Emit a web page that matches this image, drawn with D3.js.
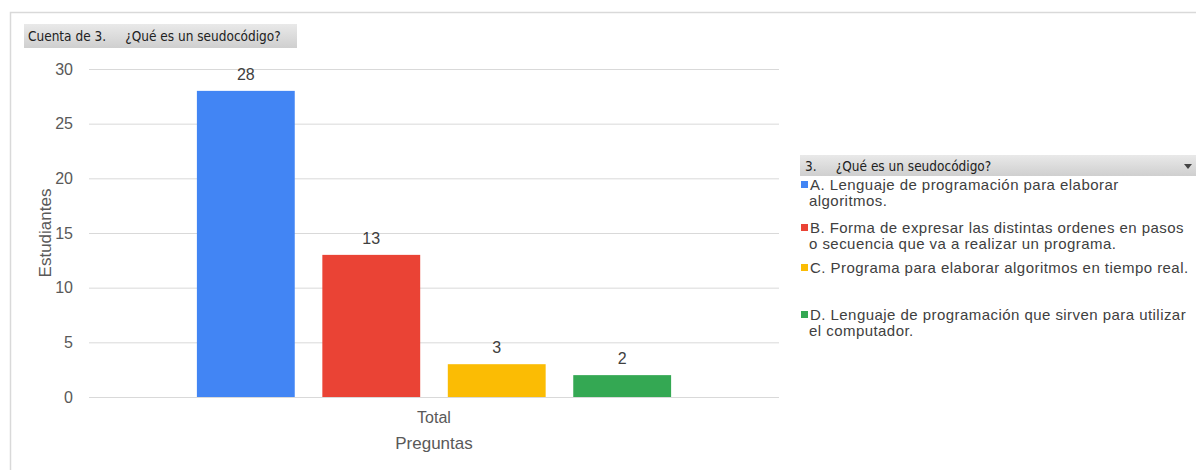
<!DOCTYPE html>
<html>
<head>
<meta charset="utf-8">
<script src="https://cdn.jsdelivr.net/npm/d3@7"></script>
<style>
  body { margin: 0; background: #fff; }
  svg { display: block; }
</style>
</head>
<body>
<div id="chart"></div>
<script>
// Data
const categories = ["Total"];
const series = ["A", "B", "C", "D"];
const values = [28, 13, 3, 2];
const colors = ["#4285F4", "#EA4335", "#FBBC04", "#34A853"];
const legendLines = [
  ["A. Lenguaje de programación para elaborar", "algoritmos."],
  ["B. Forma de expresar las distintas ordenes en pasos", "o secuencia que va a realizar un programa."],
  ["C. Programa para elaborar algoritmos en tiempo real."],
  ["D. Lenguaje de programación que sirven para utilizar", "el computador."]
];
const legendY = [185, 228, 268, 315];
const yTicks = [0, 5, 10, 15, 20, 25, 30];

const width = 1196, height = 470;
const plot = { left: 89, right: 779, top: 69, bottom: 397 };

const svg = d3.select("#chart").append("svg")
  .attr("width", width)
  .attr("height", height);

// Outer frame
svg.append("rect")
  .attr("x", 10.5).attr("y", 12.5)
  .attr("width", 1200).attr("height", 470)
  .attr("fill", "none")
  .attr("stroke", "#d9d9d9")
  .attr("stroke-width", 1.5);

const defs = svg.append("defs");
const grad = defs.append("linearGradient")
  .attr("id", "hdr").attr("x1", 0).attr("x2", 0).attr("y1", 0).attr("y2", 1);
grad.append("stop").attr("offset", "0%").attr("stop-color", "#e9e9e9");
grad.append("stop").attr("offset", "100%").attr("stop-color", "#cfcfcf");

// Title button
svg.append("rect")
  .attr("x", 24).attr("y", 24).attr("width", 273).attr("height", 24)
  .attr("fill", "url(#hdr)");
svg.append("text")
  .attr("x", 28).attr("y", 41)
  .style("font-family", "Tahoma, 'DejaVu Sans Condensed', 'DejaVu Sans', sans-serif")
  .style("font-size", "13.5px")
  .attr("fill", "#222")
  .attr("xml:space", "preserve")
  .text("Cuenta de 3.     ¿Qué es un seudocódigo?");

// Scales
const y = d3.scaleLinear().domain([0, 30]).range([plot.bottom, plot.top]);
const x0 = d3.scaleBand().domain(categories).range([plot.left, plot.right]);
const x1 = d3.scaleBand().domain(series).range([plot.left, plot.right])
  .paddingInner(0.22).paddingOuter(0.86);

// Gridlines
svg.append("g")
  .selectAll("line")
  .data(yTicks)
  .enter()
  .append("line")
  .attr("x1", plot.left).attr("x2", plot.right)
  .attr("y1", d => y(d) + 0.5).attr("y2", d => y(d) + 0.5)
  .attr("stroke", "#d9d9d9");

// Y axis
const yAxis = svg.append("g")
  .attr("transform", "translate(" + plot.left + ",0)")
  .call(d3.axisLeft(y).tickValues(yTicks).tickSize(0).tickPadding(16));
yAxis.select(".domain").remove();
yAxis.selectAll("text")
  .style("font-family", "Arial, 'Liberation Sans', sans-serif")
  .style("font-size", "16px")
  .attr("fill", "#595959");

// X axis
const xAxis = svg.append("g")
  .attr("transform", "translate(0," + plot.bottom + ")")
  .call(d3.axisBottom(x0).tickSize(0).tickPadding(15));
xAxis.select(".domain").remove();
xAxis.selectAll("text")
  .style("font-family", "Arial, 'Liberation Sans', sans-serif")
  .style("font-size", "16px")
  .attr("fill", "#595959");

// Bars
svg.append("g")
  .selectAll("rect")
  .data(values)
  .enter()
  .append("rect")
  .attr("x", (d, i) => x1(series[i]))
  .attr("width", x1.bandwidth())
  .attr("y", d => y(d))
  .attr("height", d => y(0) - y(d))
  .attr("fill", (d, i) => colors[i]);

// Value labels
svg.append("g")
  .selectAll("text")
  .data(values)
  .enter()
  .append("text")
  .attr("x", (d, i) => x1(series[i]) + x1.bandwidth() / 2)
  .attr("y", d => y(d) - 11)
  .attr("text-anchor", "middle")
  .style("font-family", "Arial, 'Liberation Sans', sans-serif")
  .style("font-size", "16px")
  .attr("fill", "#404040")
  .text(d => d);

// Axis titles
svg.append("text")
  .attr("x", x0("Total") + x0.bandwidth() / 2)
  .attr("y", 449)
  .attr("text-anchor", "middle")
  .style("font-family", "Arial, 'Liberation Sans', sans-serif")
  .style("font-size", "17px")
  .attr("fill", "#595959")
  .text("Preguntas");

svg.append("text")
  .attr("transform", "translate(51," + ((plot.top + plot.bottom) / 2) + ") rotate(-90)")
  .attr("text-anchor", "middle")
  .style("font-family", "Arial, 'Liberation Sans', sans-serif")
  .style("font-size", "17px")
  .attr("fill", "#595959")
  .text("Estudiantes");

// Legend header
svg.append("rect")
  .attr("x", 800).attr("y", 155).attr("width", 400).attr("height", 21)
  .attr("fill", "url(#hdr)");
svg.append("text")
  .attr("x", 805).attr("y", 170.5)
  .style("font-family", "Tahoma, 'DejaVu Sans Condensed', 'DejaVu Sans', sans-serif")
  .style("font-size", "13.5px")
  .attr("fill", "#222")
  .attr("xml:space", "preserve")
  .text("3.     ¿Qué es un seudocódigo?");
svg.append("path")
  .attr("d", "M1184,164 L1192,164 L1188,169 Z")
  .attr("fill", "#444");

// Legend items
const legend = svg.append("g")
  .selectAll("g")
  .data(series)
  .enter()
  .append("g")
  .attr("transform", (d, i) => "translate(801," + legendY[i] + ")");

legend.append("rect")
  .attr("x", 0).attr("y", -4)
  .attr("width", 7).attr("height", 7)
  .attr("fill", (d, i) => colors[i]);

legend.append("text")
  .style("font-family", "Arial, 'Liberation Sans', sans-serif")
  .style("font-size", "15px")
  .style("letter-spacing", "0.45px")
  .attr("fill", "#404040")
  .selectAll("tspan")
  .data((d, i) => legendLines[i])
  .enter()
  .append("tspan")
  .attr("x", (d, j) => j === 0 ? 9 : 8)
  .attr("y", (d, j) => 5 + j * 15.5)
  .text(d => d);
</script>
</body>
</html>
